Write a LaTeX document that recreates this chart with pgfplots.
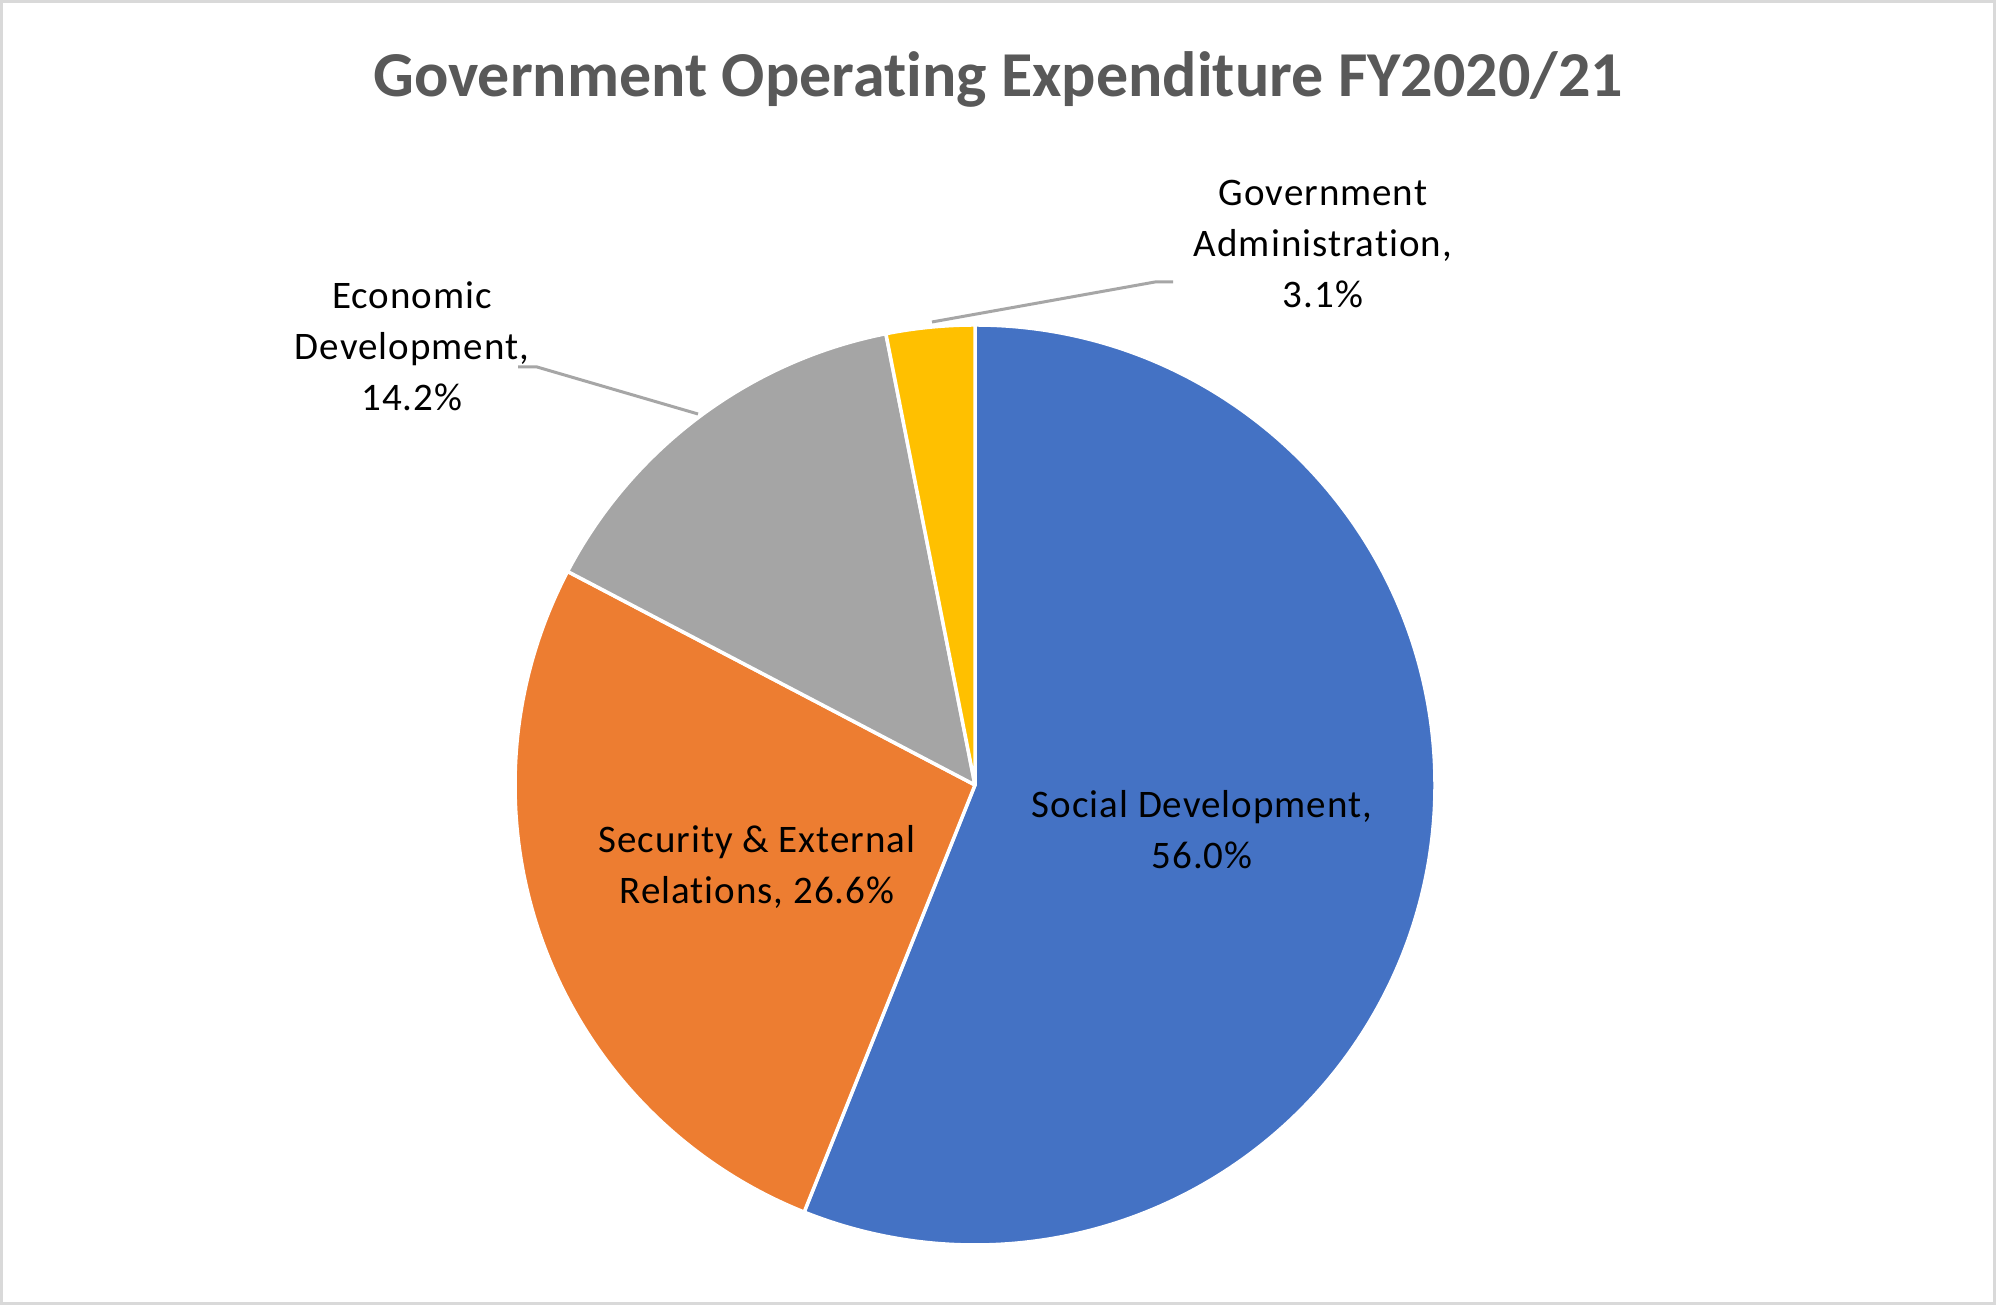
\documentclass[border=0pt]{standalone}
\usepackage{pgfplots}
\pgfplotsset{compat=1.18}
\usepackage{fontspec}
\setmainfont[Ligatures=NoCommon]{Carlito}
\newfontfamily\labfont[Ligatures=NoCommon,LetterSpace=2.5]{Carlito}
\definecolor{cBlue}{HTML}{4472C4}
\definecolor{cOrange}{HTML}{ED7D31}
\definecolor{cGray}{HTML}{A5A5A5}
\definecolor{cGold}{HTML}{FFC000}
\definecolor{cTitle}{HTML}{595959}
\definecolor{cLeader}{HTML}{A6A6A6}
\definecolor{cFrame}{HTML}{D9D9D9}
% shares (percent)
\def\vA{56.0}% Social Development
\def\vB{26.6}% Security & External Relations
\def\vC{14.2}% Economic Development
\def\vD{3.1}% Government Administration
\pgfmathsetmacro{\tot}{\vA+\vB+\vC+\vD}
\pgfmathsetmacro{\aA}{90}
\pgfmathsetmacro{\aB}{\aA-\vA/\tot*360}
\pgfmathsetmacro{\aC}{\aB-\vB/\tot*360}
\pgfmathsetmacro{\aD}{\aC-\vC/\tot*360}
\pgfmathsetmacro{\aE}{\aD-\vD/\tot*360}
\begin{document}
\begin{tikzpicture}
\begin{axis}[width=1996bp,height=1305bp,scale only axis,
  xmin=0,xmax=1996,ymin=0,ymax=1305,hide axis,clip=false]
\path (axis cs:0,0) rectangle (axis cs:1996,1305);
\fill[white] (axis cs:0,0) rectangle (axis cs:1996,1305);
\draw[cFrame,line width=3bp] (axis cs:1.5,1.5) rectangle (axis cs:1994.5,1303.5);
% pie
\filldraw[fill=cBlue,draw=white,line width=3.5bp,line join=round] (axis cs:975,520) -- ++(\aA:460bp) arc[start angle=\aA,end angle=\aB,radius=460bp] -- cycle;
\filldraw[fill=cOrange,draw=white,line width=3.5bp,line join=round] (axis cs:975,520) -- ++(\aB:460bp) arc[start angle=\aB,end angle=\aC,radius=460bp] -- cycle;
\filldraw[fill=cGray,draw=white,line width=3.5bp,line join=round] (axis cs:975,520) -- ++(\aC:460bp) arc[start angle=\aC,end angle=\aD,radius=460bp] -- cycle;
\filldraw[fill=cGold,draw=white,line width=3.5bp,line join=round] (axis cs:975,520) -- ++(\aD:460bp) arc[start angle=\aD,end angle=\aE,radius=460bp] -- cycle;
% leader lines
\draw[cLeader,line width=3bp] (axis cs:518,938) -- (axis cs:537,938) -- (axis cs:698,891);
\draw[cLeader,line width=3bp] (axis cs:932,983) -- (axis cs:1155,1023) -- (axis cs:1173,1023);
% labels
\tikzset{lab/.style={align=center,inner sep=0pt,font=\labfont\fontsize{39bp}{51bp}\selectfont,text=black}}
\node[lab] at (axis cs:1202,475) {Social Development,\\56.0\%};
\node[lab] at (axis cs:757,438) {Security \& External\\Relations, 26.6\%};
\node[lab] at (axis cs:412,959) {Economic\\Development,\\14.2\%};
\node[lab] at (axis cs:1323,1061) {Government\\Administration,\\3.1\%};
% title
\node[inner sep=0pt,font=\fontsize{64bp}{78bp}\selectfont\bfseries,text=cTitle] at (axis cs:998,1226) {Government Operating Expenditure FY2020/21};
\end{axis}
\end{tikzpicture}
\end{document}
